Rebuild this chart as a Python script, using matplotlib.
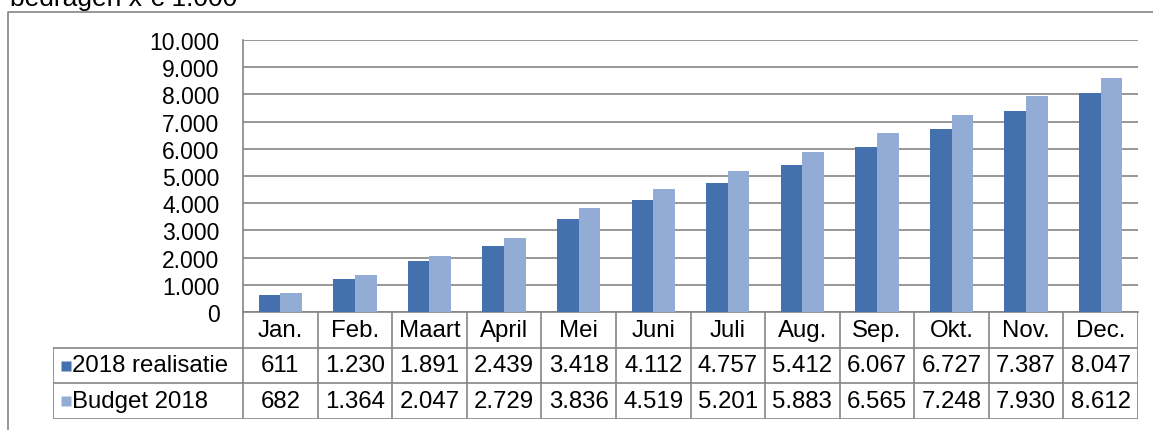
import matplotlib
matplotlib.use("Agg")
import matplotlib.pyplot as plt
from matplotlib.lines import Line2D
import numpy as np

plt.rcParams['font.family'] = ['Liberation Sans', 'DejaVu Sans']

months = ['Jan.', 'Feb.', 'Maart', 'April', 'Mei', 'Juni', 'Juli', 'Aug.', 'Sep.', 'Okt.', 'Nov.', 'Dec.']
realisatie = [611, 1230, 1891, 2439, 3418, 4112, 4757, 5412, 6067, 6727, 7387, 8047]
budget = [682, 1364, 2047, 2729, 3836, 4519, 5201, 5883, 6565, 7248, 7930, 8612]
series_names = ['2018 realisatie', 'Budget 2018']
y_ticks = [0, 1000, 2000, 3000, 4000, 5000, 6000, 7000, 8000, 9000, 10000]

dark = '#4470ad'
light = '#93acd6'
grid_col = '#858585'
fs = 17.3
fs_tick = 16.5

W, H = 1153, 431
fig = plt.figure(figsize=(W / 100, H / 100), dpi=100)


def fx(px):
    return px / W


def fy(py):
    return 1 - py / H


# outer frame (partly cut off)
fig.add_artist(Line2D([fx(8), fx(8), fx(1153)], [0, fy(13), fy(13)],
                      color=grid_col, lw=1.2, transform=fig.transFigure))
fig.text(fx(10), fy(6), 'bedragen x € 1.000', fontsize=19, va='baseline', ha='left')

# bar chart
left, right, top, zero = 243, 1138, 41, 313
ax = fig.add_axes([fx(left), fy(zero), fx(right - left), (zero - top) / H])
x = np.arange(len(months))
bw = 0.29
ax.bar(x - bw / 2, realisatie, bw, color=dark, zorder=3)
ax.bar(x + bw / 2, budget, bw, color=light, zorder=3)
ax.set_xlim(-0.5, len(months) - 0.5)
ax.set_ylim(0, 10000)
ax.set_yticks(y_ticks)
ax.set_yticklabels([f'{v:,}'.replace(',', '.') for v in y_ticks], fontsize=fs_tick)
ax.tick_params(axis='y', length=0, pad=17)
ax.set_xticks([])
ax.yaxis.grid(True, color=grid_col, lw=1.2, zorder=1)
for s in ['top', 'right']:
    ax.spines[s].set_visible(False)
for s in ['left', 'bottom']:
    ax.spines[s].set_color(grid_col)
    ax.spines[s].set_linewidth(1.2)
ax.set_facecolor('none')

# data table underneath
colw = (right - left) / len(months)
tleft, tbottom = 53, 420
lab_w = (left - tleft) / colw
tax = fig.add_axes([fx(tleft), fy(tbottom), fx(right - tleft), (tbottom - zero) / H])
tax.set_xlim(-0.5 - lab_w, len(months) - 0.5)
tax.set_ylim(3, 0)
tax.axis('off')
lk = dict(color=grid_col, lw=1.2, solid_capstyle='butt')
for r in [1, 2, 3]:
    tax.plot([-0.5 - lab_w, len(months) - 0.5], [r, r], **lk)
for k in range(len(months) + 1):
    tax.plot([k - 0.5, k - 0.5], [0, 3], **lk)
tax.plot([-0.5 - lab_w, -0.5 - lab_w], [1, 3], **lk)

for i, m in enumerate(months):
    tax.text(i, 0.5, m, ha='center', va='center', fontsize=fs)
    tax.text(i, 1.5, f'{realisatie[i]:,}'.replace(',', '.'), ha='center', va='center', fontsize=fs)
    tax.text(i, 2.5, f'{budget[i]:,}'.replace(',', '.'), ha='center', va='center', fontsize=fs)

for r, (name, c) in enumerate(zip(series_names, [dark, light])):
    tax.plot([-0.5 - lab_w + 13 / colw], [r + 1.5], marker='s', ms=7, color=c, mec='none')
    tax.text(-0.5 - lab_w + 19 / colw, r + 1.5, name, ha='left', va='center', fontsize=fs)

fig.savefig('out.png', dpi=100)
